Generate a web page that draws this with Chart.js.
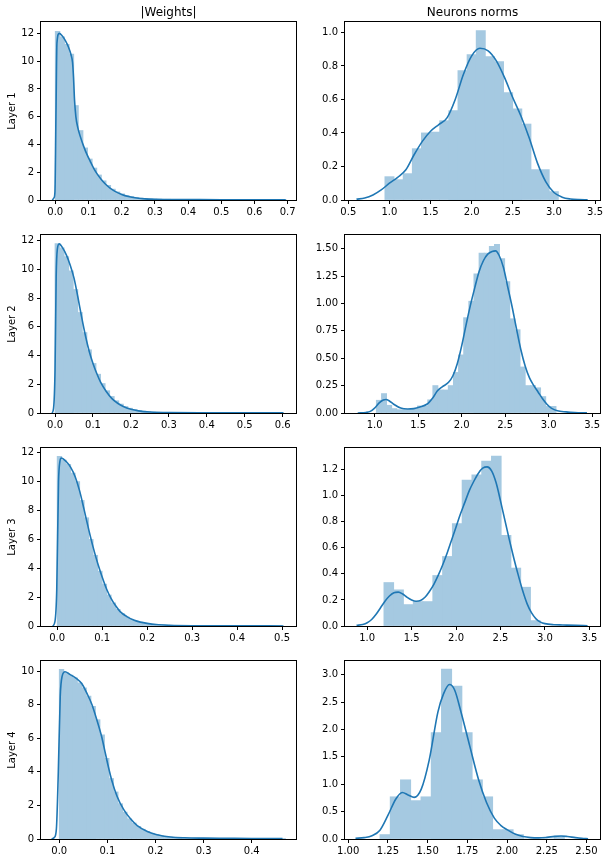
<!DOCTYPE html>
<html>
<head>
<meta charset="utf-8">
<script src="https://cdn.jsdelivr.net/npm/chart.js@4.4.1/dist/chart.umd.min.js"></script>
<style>
  html, body { margin: 0; padding: 0; background: #fff; overflow: hidden; }
  #fig { position: relative; width: 610px; height: 862px; }
  #fig canvas { position: absolute; }
</style>
</head>
<body>
<div id="fig"></div>
<script>
// ---- histogram bins: first edge, bin width, heights ----
const w1Start = 0, w1Width = 0.0139;
const w1Heights = [12.14, 11.75, 11.2, 10.5, 6.8, 5.0, 3.75, 2.95, 2.3, 1.8,
  1.38, 1.05, 0.78, 0.58, 0.44, 0.33, 0.25, 0.19, 0.14, 0.11,
  0.09, 0.07, 0.06, 0.05, 0.05, 0.04, 0.04, 0.04, 0.03, 0.03,
  0.03, 0.03, 0.03, 0.02, 0.02, 0.02, 0.02, 0.02, 0.02, 0.02,
  0.01, 0.01, 0.01, 0.01, 0.01, 0.01, 0.01, 0.01, 0.01, 0.01];

const w2Start = 0, w2Width = 0.012;
const w2Heights = [11.8, 11.5, 10.9, 9.9, 8.6, 7.0, 5.6, 4.4, 3.45, 2.7,
  2.05, 1.55, 1.15, 0.85, 0.62, 0.45, 0.33, 0.24, 0.17, 0.13,
  0.1, 0.07, 0.05, 0.04, 0.04, 0.03, 0.03, 0.02, 0.02, 0.02,
  0.02, 0.02, 0.01, 0.01, 0.01, 0.01, 0.01, 0.01, 0.01, 0.01,
  0.01, 0.01, 0.01, 0.01, 0.01, 0.01, 0.01, 0.01, 0.01, 0.01];

const w3Start = 0, w3Width = 0.01;
const w3Heights = [11.75, 11.5, 11.2, 10.6, 10.0, 8.7, 7.5, 6.0, 4.9, 3.8,
  2.9, 2.15, 1.6, 1.15, 0.85, 0.62, 0.46, 0.34, 0.26, 0.19,
  0.14, 0.1, 0.08, 0.06, 0.05, 0.04, 0.03, 0.03, 0.02, 0.02,
  0.02, 0.02, 0.01, 0.01, 0.01, 0.01, 0.01, 0.01, 0.01, 0.01,
  0.01, 0.01, 0.01, 0.01, 0.01, 0.01, 0.01, 0.01, 0.01, 0.01];

const w4Start = 0, w4Width = 0.0094;
const w4Heights = [10.1, 9.9, 9.75, 9.6, 9.3, 9.0, 8.5, 7.9, 7.1, 6.2,
  4.8, 3.6, 2.8, 2.1, 1.6, 1.2, 0.95, 0.75, 0.58, 0.44,
  0.34, 0.26, 0.2, 0.15, 0.12, 0.1, 0.08, 0.07, 0.06, 0.05,
  0.05, 0.04, 0.04, 0.04, 0.03, 0.03, 0.03, 0.03, 0.03, 0.03,
  0.02, 0.02, 0.02, 0.02, 0.02, 0.02, 0.02, 0.02, 0.02, 0.02];

const n1Start = 0.945, n1Width = 0.111;
const n1Heights = [0.139, 0.121, 0.157, 0.306, 0.40, 0.405, 0.473, 0.533, 0.771, 0.867,
  1.01, 0.855, 0.825, 0.64, 0.543, 0.453, 0.181, 0.181, 0.05];

const n2Start = 1.02, n2Width = 0.059;
const n2Heights = [0.116, 0.177, 0.07, 0.04, 0.03, 0.03, 0.03, 0.04, 0.064, 0.064,
  0.12, 0.25, 0.21, 0.21, 0.25, 0.37, 0.53, 0.87, 1.02, 1.27,
  1.46, 1.46, 1.52, 1.54, 1.41, 1.2, 0.86, 0.76, 0.42, 0.25,
  0.25, 0.23, 0.15, 0.06, 0.06];

const n3Start = 1.188, n3Width = 0.11;
const n3Heights = [0.333, 0.277, 0.164, 0.187, 0.187, 0.387, 0.533, 0.785, 1.118, 1.159,
  1.264, 1.303, 0.695, 0.444, 0.297, 0.041];

const n4Start = 1.2, n4Width = 0.0645;
const n4Heights = [0.08, 0.77, 1.08, 0.70, 0.77, 1.94, 3.10, 2.79, 1.94, 1.08,
  0.77, 0.17, 0.17, 0.08, 0, 0, 0, 0.05];

// ---- KDE curves [x, density] ----
const w1Kde = [[-0.009, 0], [-0.004, 0.15], [-0.001, 0.6], [0.002, 6], [0.005, 11.3], [0.012, 12.0],
  [0.02, 11.85], [0.03, 11.5], [0.04, 11.0], [0.047, 10.5], [0.052, 9.9], [0.055, 8.8], [0.058, 7.2],
  [0.062, 6.0], [0.068, 5.2], [0.075, 4.6], [0.085, 3.9], [0.095, 3.3], [0.105, 2.8], [0.115, 2.32],
  [0.125, 1.92], [0.138, 1.5], [0.15, 1.17], [0.165, 0.86], [0.18, 0.62], [0.2, 0.4], [0.22, 0.25],
  [0.245, 0.14], [0.27, 0.08], [0.3, 0.05], [0.35, 0.035], [0.4, 0.03], [0.5, 0.02], [0.6, 0.02], [0.694, 0.01]];

const w2Kde = [[-0.008, 0], [-0.004, 0.3], [0.0, 3], [0.003, 9.5], [0.006, 11.4], [0.011, 11.78],
  [0.02, 11.5], [0.03, 11.0], [0.04, 10.3], [0.05, 9.4], [0.06, 8.1], [0.07, 6.7], [0.08, 5.4],
  [0.09, 4.3], [0.1, 3.45], [0.11, 2.75], [0.12, 2.15], [0.135, 1.5], [0.15, 1.0], [0.165, 0.68],
  [0.18, 0.45], [0.2, 0.26], [0.22, 0.15], [0.25, 0.07], [0.3, 0.03], [0.4, 0.02], [0.5, 0.02], [0.602, 0.01]];

const w3Kde = [[-0.01, 0], [-0.005, 0.3], [-0.001, 2.5], [0.003, 10], [0.006, 11.4], [0.009, 11.65],
  [0.02, 11.4], [0.03, 11.0], [0.04, 10.35], [0.05, 9.35], [0.06, 8.05], [0.07, 6.7], [0.08, 5.45],
  [0.09, 4.35], [0.1, 3.4], [0.11, 2.55], [0.12, 1.9], [0.13, 1.4], [0.14, 1.0], [0.155, 0.65],
  [0.17, 0.42], [0.185, 0.27], [0.2, 0.18], [0.22, 0.1], [0.25, 0.05], [0.3, 0.02], [0.4, 0.01], [0.503, 0.005]];

const w4Kde = [[-0.016, 0], [-0.01, 0.1], [-0.006, 0.6], [-0.002, 4], [0.002, 8.5], [0.006, 9.7],
  [0.012, 9.96], [0.022, 9.8], [0.036, 9.55], [0.047, 9.25], [0.057, 8.7], [0.068, 8.0], [0.078, 7.1],
  [0.088, 6.1], [0.095, 5.2], [0.102, 4.3], [0.109, 3.5], [0.12, 2.55], [0.134, 1.75], [0.148, 1.2],
  [0.162, 0.8], [0.183, 0.45], [0.203, 0.25], [0.231, 0.12], [0.26, 0.07], [0.3, 0.05], [0.35, 0.04],
  [0.4, 0.03], [0.464, 0.02]];

const n1Kde = [[0.6, 0.005], [0.7, 0.012], [0.8, 0.03], [0.9, 0.06], [1.0, 0.1], [1.1, 0.135], [1.2, 0.18],
  [1.3, 0.27], [1.4, 0.35], [1.5, 0.41], [1.6, 0.45], [1.7, 0.49], [1.8, 0.6], [1.9, 0.75], [2.0, 0.86],
  [2.1, 0.905], [2.2, 0.89], [2.3, 0.83], [2.4, 0.73], [2.5, 0.61], [2.6, 0.5], [2.7, 0.37], [2.8, 0.22],
  [2.9, 0.11], [3.0, 0.045], [3.1, 0.017], [3.2, 0.006], [3.3, 0.002], [3.41, 0.001]];

const n2Kde = [[0.806, 0], [0.9, 0.005], [0.95, 0.015], [1.0, 0.045], [1.05, 0.09], [1.1, 0.118], [1.13, 0.123],
  [1.17, 0.11], [1.22, 0.08], [1.3, 0.045], [1.38, 0.036], [1.45, 0.04], [1.52, 0.055], [1.6, 0.08],
  [1.67, 0.14], [1.72, 0.2], [1.78, 0.24], [1.85, 0.28], [1.9, 0.34], [1.95, 0.45], [2.0, 0.61], [2.05, 0.8],
  [2.1, 0.98], [2.15, 1.14], [2.2, 1.29], [2.25, 1.39], [2.3, 1.45], [2.35, 1.475], [2.39, 1.48], [2.43, 1.44],
  [2.48, 1.33], [2.53, 1.15], [2.58, 0.97], [2.63, 0.77], [2.68, 0.58], [2.73, 0.43], [2.78, 0.32], [2.83, 0.25],
  [2.88, 0.19], [2.93, 0.13], [2.98, 0.08], [3.03, 0.045], [3.1, 0.02], [3.2, 0.01], [3.3, 0.004], [3.44, 0.001]];

const n3Kde = [[0.88, 0.005], [0.95, 0.012], [1.0, 0.025], [1.05, 0.05], [1.1, 0.09], [1.15, 0.14], [1.2, 0.19],
  [1.25, 0.23], [1.3, 0.255], [1.35, 0.26], [1.4, 0.245], [1.45, 0.22], [1.5, 0.2], [1.55, 0.19], [1.6, 0.195],
  [1.65, 0.22], [1.7, 0.265], [1.75, 0.32], [1.8, 0.39], [1.85, 0.47], [1.9, 0.56], [1.95, 0.66], [2.0, 0.76],
  [2.05, 0.86], [2.1, 0.95], [2.15, 1.04], [2.2, 1.11], [2.25, 1.17], [2.3, 1.21], [2.35, 1.22], [2.4, 1.19],
  [2.45, 1.1], [2.5, 0.96], [2.55, 0.81], [2.6, 0.66], [2.65, 0.52], [2.7, 0.39], [2.75, 0.27], [2.8, 0.17],
  [2.85, 0.1], [2.9, 0.055], [2.95, 0.03], [3.0, 0.018], [3.1, 0.01], [3.2, 0.008], [3.35, 0.005], [3.48, 0.002]];

const n4Kde = [[1.046, 0.012], [1.1, 0.025], [1.15, 0.06], [1.2, 0.16], [1.25, 0.43], [1.3, 0.73], [1.34, 0.85],
  [1.38, 0.8], [1.415, 0.76], [1.46, 0.91], [1.51, 1.44], [1.565, 2.32], [1.6, 2.65], [1.638, 2.82], [1.67, 2.72],
  [1.71, 2.32], [1.765, 1.7], [1.82, 1.09], [1.87, 0.67], [1.92, 0.38], [1.96, 0.25], [2.0, 0.17], [2.05, 0.09],
  [2.1, 0.045], [2.15, 0.025], [2.2, 0.02], [2.25, 0.03], [2.3, 0.048], [2.34, 0.055], [2.38, 0.045],
  [2.43, 0.025], [2.47, 0.012], [2.51, 0.005]];

// ---- panels: row, column, axis ranges ----
const panels = [
  { row: 0, col: 0, start: w1Start, width: w1Width, heights: w1Heights, kde: w1Kde,
    xMin: -0.043, xMax: 0.725, xStep: 0.1, xDec: 1, yMax: 12.82, yStep: 2, yDec: 0 },
  { row: 0, col: 1, start: n1Start, width: n1Width, heights: n1Heights, kde: n1Kde,
    xMin: 0.46, xMax: 3.56, xStep: 0.5, xDec: 1, yMax: 1.062, yStep: 0.2, yDec: 1 },
  { row: 1, col: 0, start: w2Start, width: w2Width, heights: w2Heights, kde: w2Kde,
    xMin: -0.037, xMax: 0.635, xStep: 0.1, xDec: 1, yMax: 12.4, yStep: 2, yDec: 0 },
  { row: 1, col: 1, start: n2Start, width: n2Width, heights: n2Heights, kde: n2Kde,
    xMin: 0.66, xMax: 3.59, xStep: 0.5, xDec: 1, yMax: 1.625, yStep: 0.25, yDec: 2 },
  { row: 2, col: 0, start: w3Start, width: w3Width, heights: w3Heights, kde: w3Kde,
    xMin: -0.036, xMax: 0.531, xStep: 0.1, xDec: 1, yMax: 12.34, yStep: 2, yDec: 0 },
  { row: 2, col: 1, start: n3Start, width: n3Width, heights: n3Heights, kde: n3Kde,
    xMin: 0.75, xMax: 3.62, xStep: 0.5, xDec: 1, yMax: 1.365, yStep: 0.2, yDec: 1 },
  { row: 3, col: 0, start: w4Start, width: w4Width, heights: w4Heights, kde: w4Kde,
    xMin: -0.038, xMax: 0.492, xStep: 0.1, xDec: 1, yMax: 10.6, yStep: 2, yDec: 0 },
  { row: 3, col: 1, start: n4Start, width: n4Width, heights: n4Heights, kde: n4Kde,
    xMin: 0.98, xMax: 2.585, xStep: 0.25, xDec: 2, yMax: 3.25, yStep: 0.5, yDec: 1 }
];
const colTitles = ['|Weights|', 'Neurons norms'];

Chart.defaults.font.family = 'DejaVu Sans';
Chart.defaults.font.size = 10;
Chart.defaults.color = '#000';

// frame around each plot area (matplotlib spines)
const framePlugin = {
  id: 'frame',
  afterDraw(chart) {
    const a = chart.chartArea, ctx = chart.ctx;
    ctx.save();
    ctx.strokeStyle = '#000';
    ctx.lineWidth = 1;
    ctx.strokeRect(Math.round(a.left) - 0.5, Math.round(a.top) - 0.5,
      Math.round(a.right - a.left) + 1, Math.round(a.bottom - a.top) + 1);
    ctx.restore();
  }
};

const fig = document.getElementById('fig');
const rowTops = [22, 235, 448, 661];

panels.forEach(function (p) {
  const canvas = document.createElement('canvas');
  canvas.width = 305;
  canvas.height = 224;
  canvas.style.left = (p.col * 305) + 'px';
  canvas.style.top = (rowTops[p.row] - 22) + 'px';
  canvas.style.width = '305px';
  canvas.style.height = '224px';
  fig.appendChild(canvas);

  const bars = p.heights.map((h, i) => ({ x: p.start + p.width * (i + 0.5), y: h }));
  const curve = p.kde.map(d => ({ x: d[0], y: d[1] }));
  const yWidth = p.col === 0 ? 41 : 40;

  new Chart(canvas.getContext('2d'), {
    type: 'bar',
    data: {
      datasets: [{
        type: 'line',
        data: curve,
        borderColor: '#1f77b4',
        borderWidth: 1.6,
        pointRadius: 0,
        fill: false,
        cubicInterpolationMode: 'monotone',
        order: 0
      }, {
        type: 'bar',
        data: bars,
        // alpha 0.4 of #1f77b4 over white
        backgroundColor: 'rgb(165,201,225)',
        borderWidth: 0,
        inflateAmount: 0.4,
        barPercentage: 1,
        categoryPercentage: 1,
        order: 1
      }]
    },
    options: {
      responsive: false,
      animation: false,
      devicePixelRatio: 1,
      events: [],
      layout: {
        padding: { top: p.row === 0 ? 0 : 22, right: p.col === 0 ? 9 : 10, left: 0, bottom: 0 }
      },
      plugins: {
        legend: { display: false },
        tooltip: { enabled: false },
        title: {
          display: p.row === 0,
          text: colTitles[p.col],
          fullSize: false,
          color: '#000',
          font: { size: 12, weight: 'normal' },
          padding: { top: 5.5, bottom: 2.1 }
        }
      },
      scales: {
        x: {
          type: 'linear',
          min: p.xMin,
          max: p.xMax,
          offset: false,
          afterFit: s => { s.height = 24; },
          border: { display: false },
          grid: { offset: false, drawOnChartArea: false, drawTicks: true, tickLength: 4, color: '#000' },
          ticks: {
            stepSize: p.xStep, includeBounds: false, autoSkip: false, maxRotation: 0,
            padding: 2, color: '#000', callback: v => Number(v).toFixed(p.xDec)
          }
        },
        y: {
          type: 'linear',
          min: 0,
          max: p.yMax,
          afterFit: s => { s.width = yWidth; },
          border: { display: false },
          grid: { drawOnChartArea: false, drawTicks: true, tickLength: 4, color: '#000' },
          ticks: {
            stepSize: p.yStep, includeBounds: false, autoSkip: false,
            padding: 3, color: '#000', callback: v => Number(v).toFixed(p.yDec)
          },
          title: {
            display: p.col === 0,
            text: 'Layer ' + (p.row + 1),
            color: '#000',
            font: { size: 10 },
            padding: { top: 6, bottom: 0 }
          }
        }
      }
    },
    plugins: [framePlugin]
  });
});
</script>
</body>
</html>
